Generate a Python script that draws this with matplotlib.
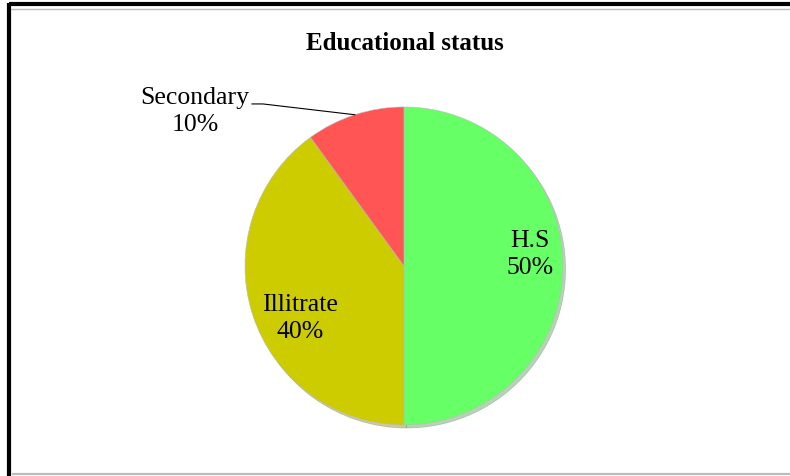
import matplotlib
matplotlib.use("Agg")
import matplotlib.pyplot as plt
from matplotlib.lines import Line2D
import numpy as np

# ---------------------------------------------------------------------------
# Data
# ---------------------------------------------------------------------------
labels = ["H.S", "Illitrate", "Secondary"]
shares = [50, 40, 10]
colors = ["#66FF66", "#CCCC00", "#FF5555"]

plt.rcParams["font.family"] = ["Liberation Serif", "DejaVu Serif"]

fig = plt.figure(figsize=(7.9, 4.77), dpi=100)
fig.patch.set_facecolor("white")

# pie axes: centre ~ (404, 267) px, radius ~159 px
ax = fig.add_axes([0.3101, 0.1070, 0.4025, 0.6667])
wedges, _ = ax.pie(shares, colors=colors, startangle=90, counterclock=False,
                   radius=1.0,
                   wedgeprops=dict(edgecolor="#BBBBBB", linewidth=0.4),
                   shadow=dict(ox=0.012, oy=-0.014, shade=0.5, alpha=0.35))
ax.set_xlim(-1, 1)
ax.set_ylim(-1, 1)
ax.set_aspect("equal")
ax.axis("off")

# --- data labels (label box centres, in pie-radius units) --------------------
label_pos = {"H.S": (0.79, 0.08), "Illitrate": (-0.654, -0.327),
             "Secondary": (-1.314, 0.975)}
for w, lab, val in zip(wedges, labels, shares):
    tx, ty = label_pos[lab]
    ax.text(tx, ty, f"{lab}\n{val}%", ha="center", va="center", fontsize=18.5,
            linespacing=1.3, clip_on=False)
    if lab == "Secondary":
        # leader line to the wedge edge
        mid = np.deg2rad((w.theta1 + w.theta2) / 2)
        ax.plot([-0.956, -0.887, np.cos(mid)], [1.019, 1.019, np.sin(mid)],
                color="black", linewidth=0.8, clip_on=False)

# --- title -----------------------------------------------------------------
fig.text(0.512, 0.908, "Educational status", ha="center", va="center",
         fontsize=18, fontweight="bold")

# --- frame -----------------------------------------------------------------
fig.add_artist(Line2D([0.012, 1.0], [0.9885, 0.9885], color="black",
                      linewidth=3.0, solid_capstyle="butt"))
fig.add_artist(Line2D([0.012, 1.0], [0.9800, 0.9800], color="#BBBBBB",
                      linewidth=1.0))
fig.add_artist(Line2D([0.012, 0.012], [0.0, 0.992], color="black",
                      linewidth=3.0, solid_capstyle="butt"))
fig.add_artist(Line2D([0.016, 1.0], [0.004, 0.004], color="#BBBBBB",
                      linewidth=1.6))

fig.savefig("out.png", dpi=100, facecolor="white")
